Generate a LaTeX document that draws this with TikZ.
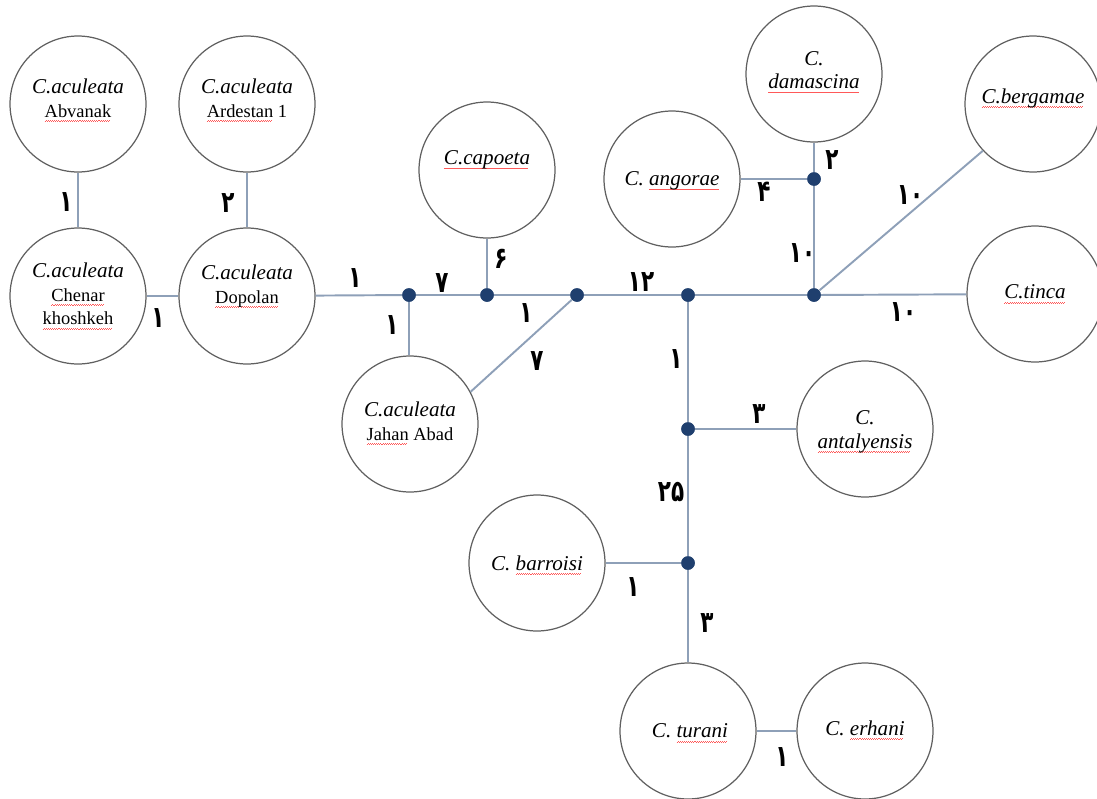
\documentclass[tikz,border=0pt]{standalone}
\usepackage{fontspec}
\setmainfont{Liberation Serif}
\newfontfamily\fa[Script=Arabic]{DejaVu Sans}
\newcommand\spl[1]{\setbox0\hbox{#1}\rlap{\raisebox{-2.4pt}[0pt][0pt]{\color{red!65}\hbox to\wd0{\leaders\hbox{\rule[0pt]{0.6pt}{0.3pt}\rule[0.45pt]{0.6pt}{0.3pt}}\hfill}}}#1}
\newcommand\subname[1]{{\upshape\fontsize{10.5}{13.5}\selectfont #1}}
\newcommand\pn[1]{\scalebox{0.72}[1]{#1}}
\definecolor{linec}{HTML}{8EA0B8}
\definecolor{dotc}{HTML}{1F3F6E}
\definecolor{circc}{HTML}{606060}
\begin{document}
\begin{tikzpicture}[x=0.02cm,y=-0.02cm,
  sp/.style={circle,draw=circc,line width=0.7pt,minimum size=2.72cm,inner sep=0pt},
  dot/.style={circle,fill=dotc,minimum size=0.27cm,inner sep=0pt},
  ln/.style={draw=linec,line width=1.1pt},
  num/.style={font=\fa\bfseries\fontsize{17}{19}\selectfont,inner sep=0pt},
  nm/.style={font=\itshape\fontsize{12}{13.5}\selectfont,align=center,inner sep=0pt},
]
\useasboundingbox (0,0) rectangle (1097,798);

% species circles
\node[sp] (abv) at (78,104) {};
\node[sp] (ard) at (247,104) {};
\node[sp] (chen) at (78,296) {};
\node[sp] (dop) at (247,296) {};
\node[sp] (cap) at (487,170) {};
\node[sp] (jah) at (410,424) {};
\node[sp] (ang) at (672,179) {};
\node[sp] (dam) at (814,74) {};
\node[sp] (berg) at (1033,104) {};
\node[sp] (tinca) at (1035,294) {};
\node[sp] (ant) at (865,429) {};
\node[sp] (bar) at (537,563) {};
\node[sp] (tur) at (688,731) {};
\node[sp] (erh) at (865,731) {};

% texts
\node[nm] (abvT) at (78,98) {C.aculeata\\\subname{\spl{Abvanak}}};
\node[nm] (ardT) at (247,98) {C.aculeata\\\subname{\spl{Ardestan} 1}};
\node[nm] (chenT) at (78,294) {C.aculeata\\\subname{\spl{Chenar}}\\\subname{\spl{khoshkeh}}};
\node[nm] (dopT) at (247,286) {C.aculeata\\\subname{\spl{Dopolan}}};
\node[nm] (capT) at (487,160) {\spl{C.capoeta}};
\node[nm] (jahT) at (410,421) {C.aculeata\\\subname{\spl{Jahan} Abad}};
\node[nm] (angT) at (672,181) {C. \spl{angorae}};
\node[nm] (damT) at (814,70) {C.\\\spl{damascina}};
\node[nm] (bergT) at (1033,98) {\spl{C.bergamae}};
\node[nm] (tincaT) at (1035,292) {\spl{C.tinca}};
\node[nm] (antT) at (865,432) {C.\\\spl{antalyensis}};
\node[nm] (barT) at (537,563) {C. \spl{barroisi}};
\node[nm] (turT) at (690,731) {C. \spl{turani}};
\node[nm] (erhT) at (865,728) {C. \spl{erhani}};

% junction dots
\node[dot] (d1) at (409,295) {};
\node[dot] (d2) at (487,295) {};
\node[dot] (d3) at (577,295) {};
\node[dot] (d4) at (688,295) {};
\node[dot] (d5) at (814,295) {};
\node[dot] (d6) at (814,179) {};
\node[dot] (d7) at (688,429) {};
\node[dot] (d8) at (688,563) {};

% connectors
\draw[ln] (abv) -- (chen);
\draw[ln] (ard) -- (dop);
\draw[ln] (chen) -- (dop);
\draw[ln] (dop) -- (d1);
\draw[ln] (d1) -- (d2);
\draw[ln] (d2) -- (d3);
\draw[ln] (d3) -- (d4);
\draw[ln] (d4) -- (d5);
\draw[ln] (d5) -- (tinca);
\draw[ln] (d1) -- (d1 |- jah.north);
\draw[ln] (cap) -- (d2);
\draw[ln] (d3) -- (jah.28);
\draw[ln] (d5) -- (berg.223);
\draw[ln] (d5) -- (d6);
\draw[ln] (ang) -- (d6);
\draw[ln] (dam) -- (d6);
\draw[ln] (d4) -- (d7);
\draw[ln] (d7) -- (ant);
\draw[ln] (d7) -- (d8);
\draw[ln] (d8) -- (bar);
\draw[ln] (d8) -- (tur);
\draw[ln] (tur) -- (erh);

% redraw dots on top
\foreach \d in {d1,d2,d3,d4,d5,d6,d7,d8}{\fill[dotc] (\d) circle[radius=0.135cm];}

% branch labels
\node[num] (l1) at (66,202) {\pn{۱}};
\node[num] (l2) at (228,203) {\pn{۲}};
\node[num] (l3) at (158,318) {\pn{۱}};
\node[num] (l4) at (355,278) {\pn{۱}};
\node[num] (l5) at (442,283) {\pn{۷}};
\node[num] (l6) at (501,259) {\pn{۶}};
\node[num] (l7) at (526,313) {\pn{۱}};
\node[num] (l8) at (392,325) {\pn{۱}};
\node[num] (l9) at (537,361) {\pn{۷}};
\node[num] (l10) at (641,282) {\pn{۱۲}};
\node[num] (l11) at (676,359) {\pn{۱}};
\node[num] (l12) at (759,414) {\pn{۳}};
\node[num] (l13) at (671,492) {\pn{۲۵}};
\node[num] (l14) at (633,587) {\pn{۱}};
\node[num] (l15) at (707,623) {\pn{۳}};
\node[num] (l16) at (782,757) {\pn{۱}};
\node[num] (l17) at (764,192) {\pn{۴}};
\node[num] (l18) at (832,160) {\pn{۲}};
\node[num] (l19) at (802,253) {\pn{۱۰}};
\node[num] (l20) at (910,195) {\pn{۱۰}};
\node[num] (l21) at (903,312) {\pn{۱۰}};
\end{tikzpicture}
\end{document}
